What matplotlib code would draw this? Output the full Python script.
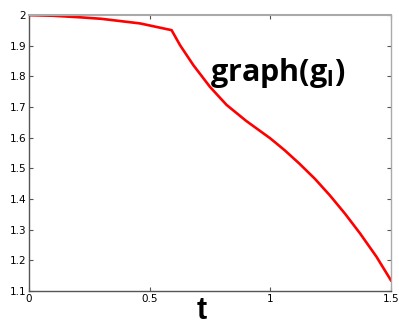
import matplotlib
matplotlib.use("Agg")
import matplotlib.pyplot as plt
import numpy as np

# curve
t = [0.0, 0.1, 0.21, 0.3, 0.46, 0.591, 0.626, 0.681, 0.75, 0.819, 0.9, 1.0,
     1.06, 1.12, 1.185, 1.247, 1.31, 1.372, 1.44, 1.5]
g = [2.0, 1.998, 1.993, 1.988, 1.973, 1.951, 1.902, 1.837, 1.766, 1.707, 1.655, 1.598,
     1.559, 1.516, 1.466, 1.412, 1.352, 1.288, 1.212, 1.135]

xticks = [0, 0.5, 1, 1.5]
xticklabels = ["0", "0.5", "1", "1.5"]
yticks = [1.1, 1.2, 1.3, 1.4, 1.5, 1.6, 1.7, 1.8, 1.9, 2.0]
yticklabels = ["1.1", "1.2", "1.3", "1.4", "1.5", "1.6", "1.7", "1.8", "1.9", "2"]

fig = plt.figure(figsize=(3.99, 3.29), dpi=100)
ax = fig.add_axes([0.0727, 0.1155, 0.907, 0.8385])

ax.plot(t, g, color="red", linewidth=1.9)

ax.set_xlim(0, 1.5)
ax.set_ylim(1.1, 2.0)
ax.set_xticks(xticks)
ax.set_xticklabels(xticklabels)
ax.set_yticks(yticks)
ax.set_yticklabels(yticklabels)
ax.tick_params(direction="in", length=3, width=0.8, colors="#555555", labelcolor="black",
               labelsize=7.5, top=True, right=True, pad=2)
for lbl in ax.get_xticklabels() + ax.get_yticklabels():
    lbl.set_family("DejaVu Sans")

for side in ["left", "bottom"]:
    ax.spines[side].set_color("#555555")
    ax.spines[side].set_linewidth(1.0)
ax.spines["top"].set_color("#aaaaaa")
ax.spines["top"].set_linewidth(1.5)
ax.spines["right"].set_color("#aaaaaa")
ax.spines["right"].set_linewidth(1.0)

ax.text(0.752, 1.785, "graph(g$_\\mathregular{l}$)", fontsize=22, fontweight="bold",
        family="Open Sans", color="black", va="baseline")
fig.text(0.505, 0.01, "t", fontsize=22, fontweight="bold", family="Liberation Sans",
         ha="center", va="bottom")

fig.savefig("out.png", dpi=100)
